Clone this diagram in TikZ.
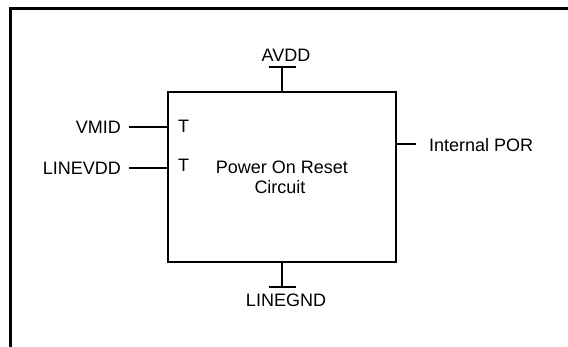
\documentclass[tikz,border=0pt]{standalone}
\usepackage{fontspec}
\setmainfont{Liberation Sans}
\begin{document}
\begin{tikzpicture}[x=1pt,y=-1pt,
  wire/.style={line width=2pt},
  lbl/.style={font=\fontsize{18}{20}\selectfont, inner sep=0pt},
  blk/.style={draw, line width=2pt, minimum width=228pt, minimum height=170pt, inner sep=0pt}]
\useasboundingbox (0,0) rectangle (568,347);
% outer frame (open at right and bottom)
\draw[line width=2.5pt] (10.5,347) -- (10.5,8.5) -- (568,8.5);
% block
\node[blk] (por) at (282,177) {};
\node[lbl, anchor=base] (t1) at (282,174) {Power On Reset};
\node[lbl, anchor=base] (t2) at (280,193.5) {Circuit};
% AVDD
\coordinate (avddbar) at (282,67);
\node[lbl, anchor=base] (avdd) at (286,62) {AVDD};
\draw[wire] (por.north -| avddbar) -- (avddbar);
\draw[wire] ([xshift=-13.5pt]avddbar) -- ([xshift=13.5pt]avddbar);
% LINEGND
\coordinate (gndbar) at (282,287);
\node[lbl, anchor=base] (gnd) at (286,306.5) {LINEGND};
\draw[wire] (por.south -| gndbar) -- (gndbar);
\draw[wire] ([xshift=-13.5pt]gndbar) -- ([xshift=13.5pt]gndbar);
% VMID
\node[lbl, anchor=base east] (vmid) at (121,134) {VMID};
\coordinate (vmidend) at (129,127);
\draw[wire] (vmidend) -- (vmidend -| por.west);
\node[lbl, anchor=base west] (T1) at (178,132.5) {T};
% LINEVDD
\node[lbl, anchor=base east] (linevdd) at (121,175) {LINEVDD};
\coordinate (lvddend) at (129,168);
\draw[wire] (lvddend) -- (lvddend -| por.west);
\node[lbl, anchor=base west] (T2) at (178,172) {T};
% Internal POR
\coordinate (porend) at (416,144);
\draw[wire] (porend -| por.east) -- (porend);
\node[lbl, anchor=base west] (ipor) at (429,151.5) {Internal POR};
\end{tikzpicture}
\end{document}
